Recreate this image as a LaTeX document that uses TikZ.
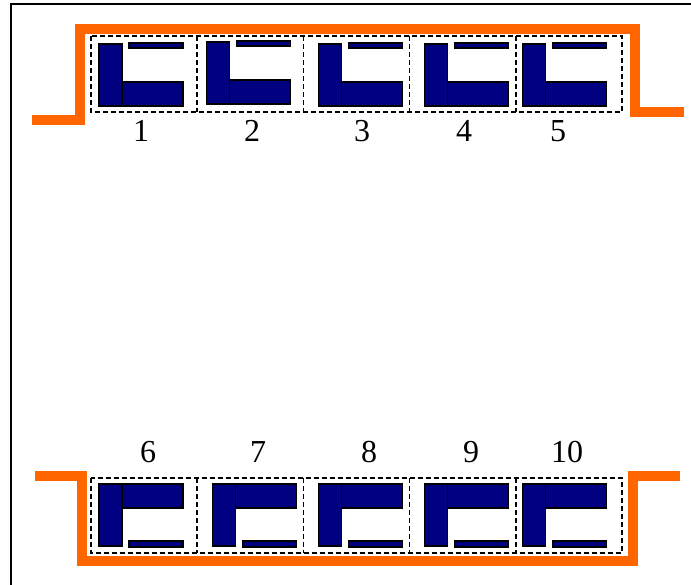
\documentclass[tikz,border=0pt]{standalone}
\usepackage{fontspec}
\setmainfont{Liberation Serif}
\definecolor{pipeorange}{RGB}{255,102,0}
\definecolor{slabblue}{RGB}{0,0,128}
\tikzset{
  pipe/.style={line width=10pt, draw=pipeorange},
  cellrow/.style={draw, dash pattern=on 5pt off 3pt, line width=1.5pt},
  slab/.style={draw=black, fill=slabblue, line width=1.3pt},
  num/.style={font=\fontsize{32}{38}\selectfont, inner sep=0pt}
}
\begin{document}
\begin{tikzpicture}[x=1pt,y=-1pt]
	\useasboundingbox (0,0) rectangle (691,585);
	\draw[line width=1.5pt] (11,590) -- (11,4) -- (696,4);
	% upper row
	\draw[pipe] (32,120) -- (80,120) -- (80,29) -- (635,29) -- (635,112) -- (684,112);
	\draw[cellrow] (91,36) rectangle (622,112);
	\foreach \i/\dx/\dy/\lx/\n in {0/8/0/141/1, 1/9/-2/252/2, 2/15/0/362/3, 3/15/0/464/4, 4/7/0/558/5}{
		\ifnum\i>0 \draw[cellrow] ({91+106.2*\i},36) -- ({91+106.2*\i},112); \fi
		\begin{scope}[shift={({91+106.2*\i+\dx},{44+\dy})}]
			\draw[slab] (0,0) rectangle (23,62);
			\draw[slab] (23,38) rectangle (84,62);
			\draw[slab] (30,-1) rectangle (84,4);
		\end{scope}
		\node[num] (up\n) at (\lx,131) {\n};
	}
	% lower row
	\draw[pipe] (35,476) -- (82,476) -- (82,561) -- (633,561) -- (633,476) -- (680,476);
	\draw[cellrow] (91,478) rectangle (622,553);
	\foreach \i/\dx/\lx/\n in {0/8/148/6, 1/15/258/7, 2/15/369/8, 3/15/471/9, 4/7/567/10}{
		\ifnum\i>0 \draw[cellrow] ({91+106.2*\i},478) -- ({91+106.2*\i},553); \fi
		\begin{scope}[shift={({91+106.2*\i+\dx},484)}]
			\draw[slab] (0,0) rectangle (23,62);
			\draw[slab] (23,0) rectangle (84,24);
			\draw[slab] (30,57) rectangle (84,63);
		\end{scope}
		\node[num] (low\n) at (\lx,452) {\n};
	}
\end{tikzpicture}
\end{document}
